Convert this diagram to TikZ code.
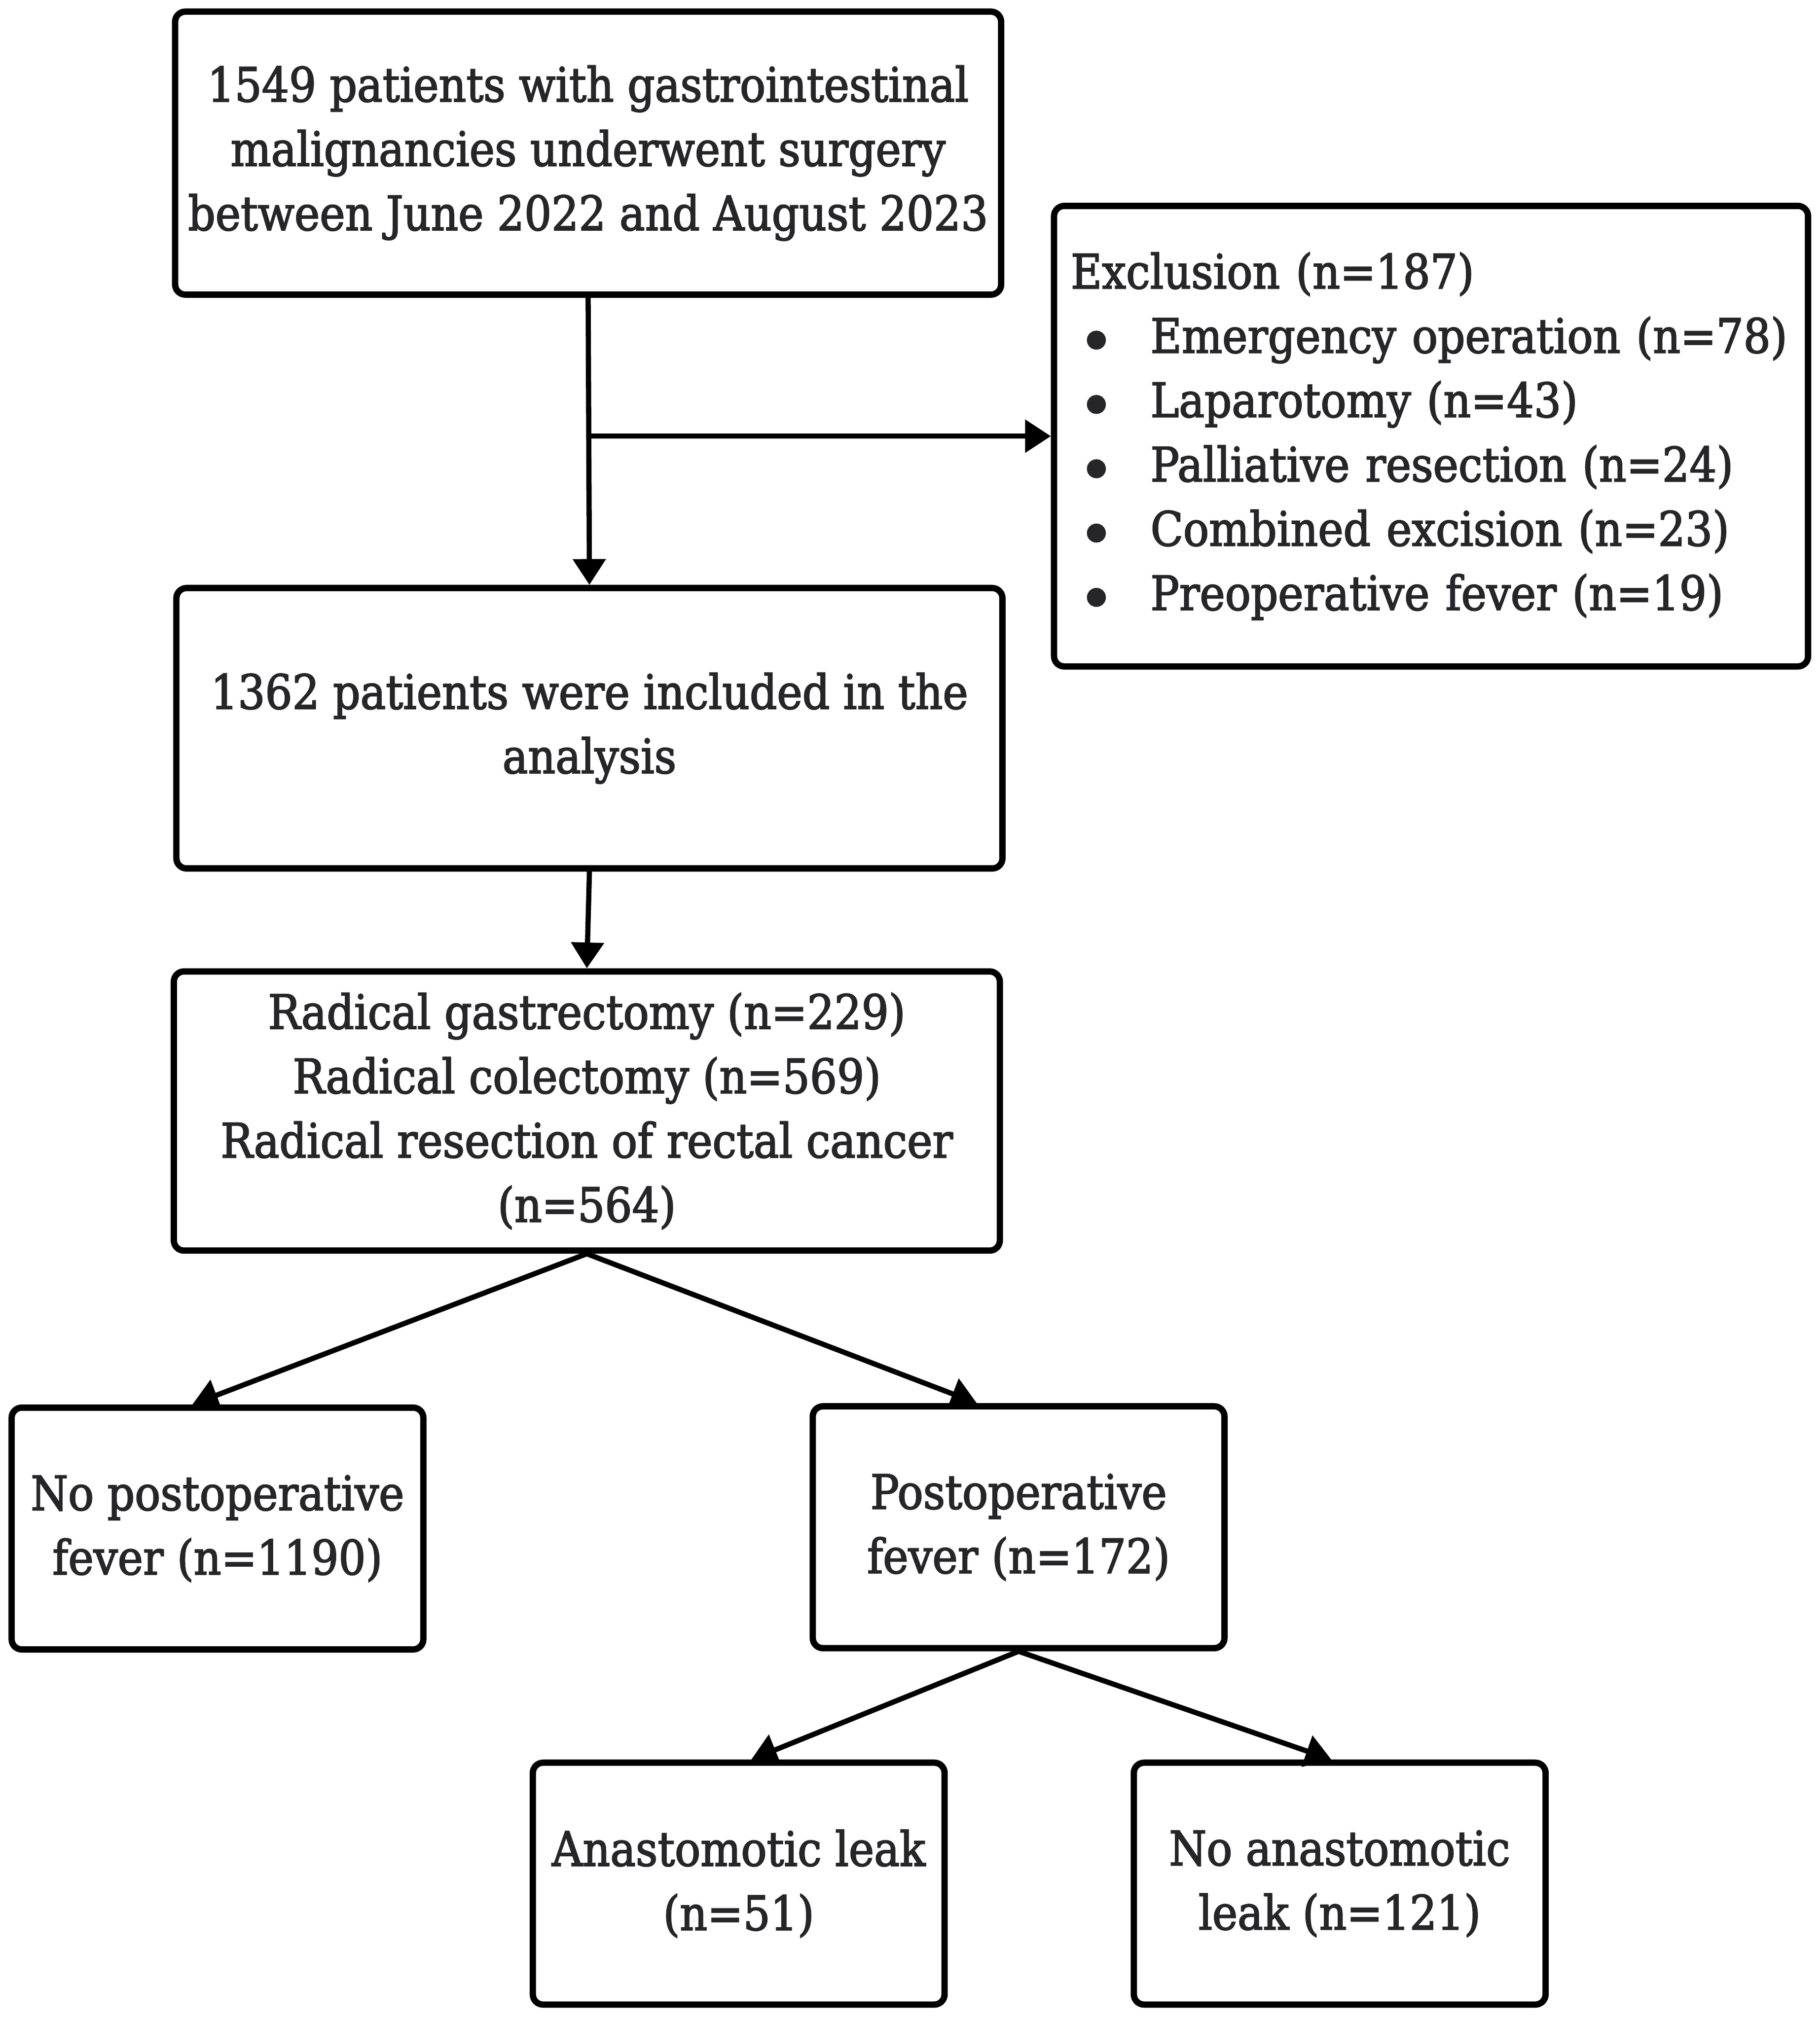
\documentclass[tikz,border=0pt]{standalone}
\usepackage{fontspec}
\setmainfont{DejaVu Serif}[FakeStretch=0.9,FakeBold=2.2]
\usepackage{tikz}
\usetikzlibrary{arrows.meta,calc,positioning}
\definecolor{boxtext}{HTML}{262628}
\newcommand{\exitem}[1]{\hspace*{0.25cm}\makebox[0.99cm][l]{\tikz[baseline=-5.6pt]\fill[boxtext] (0pt,0pt) circle (4.2pt);}#1}
\begin{document}
\begin{tikzpicture}[x=0.02cm,y=-0.02cm,
  every node/.append style={font=\fontsize{21}{28.45}\selectfont,text=boxtext},
  arrow/.style={-{Triangle[length=11.4pt,width=14.2pt]},line width=2.3pt}]
  \tikzstyle{stage} = [draw,line width=2.8pt,rounded corners=4.5pt,align=center,inner sep=0pt]
  \tikzstyle{wide} = [stage,minimum width=12.84cm,minimum height=4.38cm]
  \tikzstyle{small} = [stage,minimum width=6.4cm,minimum height=3.76cm]
  \useasboundingbox (0,0) rectangle (1414,1570);
  \node (surgery) [wide,minimum height=4.4cm] at (457,119)
    {1549 patients with gastrointestinal\\malignancies underwent surgery\\between June 2022 and August 2023};
  \node (exclusion) [stage,align=left,inner xsep=0.26cm,text width=11.2cm,minimum height=7.16cm] at (1112,339)
    {Exclusion (n=187)\\
     \exitem{Emergency operation (n=78)}\\
     \exitem{Laparotomy (n=43)}\\
     \exitem{Palliative resection (n=24)}\\
     \exitem{Combined excision (n=23)}\\
     \exitem{Preoperative fever (n=19)}};
  \node (included) [wide,minimum height=4.36cm] at (458,566)
    {1362 patients were included in the\\analysis};
  \node (procedures) [wide,minimum height=4.34cm] at (456,863.5)
    {Radical gastrectomy (n=229)\\Radical colectomy (n=569)\\Radical resection of rectal cancer\\(n=564)};
  \node (nofever) [small] at (169,1188) {No postoperative\\fever (n=1190)};
  \node (fever) [small] at (791.5,1187) {Postoperative\\fever (n=172)};
  \node (leak) [small] at (574,1464) {Anastomotic leak\\(n=51)};
  \node (noleak) [small] at (1041,1464) {No anastomotic\\leak (n=121)};
  \draw[arrow] (surgery.south) -- (included.north);
  \draw[arrow] (surgery.south |- exclusion.west) -- (exclusion.west);
  \draw[arrow] (included.south) -- (procedures.north);
  \draw[arrow] (procedures.south) -- ($(nofever.north west)!0.44!(nofever.north east)$);
  \draw[arrow] (procedures.south) -- ($(fever.north west)!0.40!(fever.north east)$);
  \draw[arrow] (fever.south) -- ($(leak.north west)!0.53!(leak.north east)$);
  \draw[arrow] (fever.south) -- ($(noleak.north west)!0.48!(noleak.north east)$);
\end{tikzpicture}
\end{document}
